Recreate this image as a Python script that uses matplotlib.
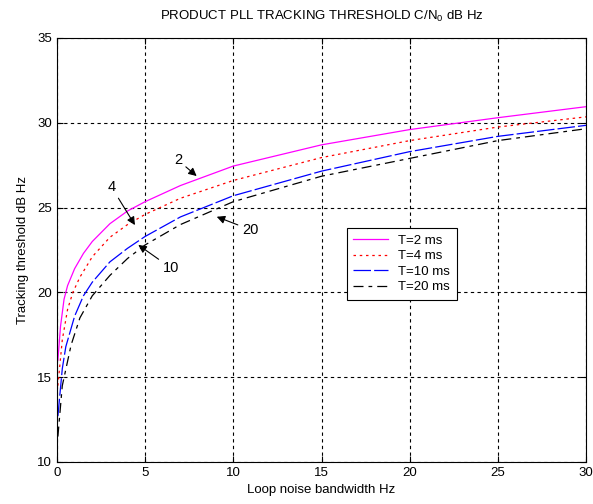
import matplotlib
matplotlib.use("Agg")
import matplotlib.pyplot as plt

plt.rcParams["font.family"] = ["Liberation Sans", "DejaVu Sans"]
plt.rcParams["mathtext.fontset"] = "custom"
plt.rcParams["mathtext.rm"] = "Liberation Sans"
plt.rcParams["mathtext.it"] = "Liberation Sans"

# Tracking threshold (dB Hz), per integration time T.
bw_2ms = [0.05, 0.2, 0.4, 0.6, 1, 1.5, 2, 3, 4, 5, 7, 10, 15, 20, 25, 30]
thr_2ms = [16.0, 18.0, 19.6, 20.4, 21.4, 22.3, 23.0, 24.05, 24.8, 25.35, 26.3, 27.45, 28.7, 29.6, 30.3, 30.95]

bw_4ms = [0.05, 0.3, 0.6, 0.9, 1.3, 2, 3, 4, 5, 7, 10, 15, 20, 25, 30]
thr_4ms = [14.5, 17.2, 19.0, 20.0, 20.9, 22.1, 23.25, 24.0, 24.6, 25.55, 26.6, 27.95, 28.95, 29.75, 30.35]

bw_10ms = [0.05, 0.3, 0.5, 1, 1.5, 2, 3, 4, 5, 7, 10, 15, 20, 25, 30]
thr_10ms = [12.7, 15.5, 16.8, 18.6, 19.8, 20.6, 21.8, 22.6, 23.3, 24.45, 25.7, 27.15, 28.3, 29.2, 29.85]

bw_20ms = [0.05, 0.3, 0.8, 1.3, 2, 3, 4, 5, 7, 10, 15, 20, 25, 30]
thr_20ms = [11.5, 14.5, 16.9, 18.5, 19.8, 21.0, 22.0, 22.8, 24.0, 25.35, 26.85, 27.9, 28.95, 29.65]

x_ticks = [0, 5, 10, 15, 20, 25, 30]
y_ticks = [10, 15, 20, 25, 30, 35]

fig = plt.figure(figsize=(5.93, 5.04), dpi=100)
ax = fig.add_axes([57 / 593, 1 - 462 / 504, 529 / 593, 424 / 504])

ax.plot(bw_2ms, thr_2ms, color="#ff00ff", lw=0.9, label="T=2 ms")
ax.plot(bw_4ms, thr_4ms, color="#ff0000", lw=0.9, linestyle=(0, (2, 3)), label="T=4 ms")
ax.plot(bw_10ms, thr_10ms, color="#0000ff", lw=0.9, linestyle=(0, (14, 2.5)), label="T=10 ms")
ax.plot(bw_20ms, thr_20ms, color="#000000", lw=0.9, linestyle=(0, (8, 4, 3, 4)), label="T=20 ms")

ax.set_xlim(0, 30)
ax.set_ylim(10, 35)
ax.set_xticks(x_ticks)
ax.set_yticks(y_ticks)
ax.tick_params(direction="in", top=True, right=True, length=4, labelsize=9.5)
ax.grid(True, color="black", linestyle=(0, (3, 3)), linewidth=0.8)
for sp in ax.spines.values():
    sp.set_linewidth(0.8)

ax.set_title("PRODUCT PLL TRACKING THRESHOLD C/N$_0$ dB Hz", fontsize=9.5, pad=13)
ax.set_xlabel("Loop noise bandwidth Hz", fontsize=9.5, labelpad=4)
ax.set_ylabel("Tracking threshold dB Hz", fontsize=9.5, labelpad=6)

# Curve labels with arrows
arrow = dict(arrowstyle="-|>", color="black", lw=0.8, mutation_scale=12, shrinkA=1, shrinkB=0)
ax.annotate("2", xy=(7.92, 26.86), xytext=(6.86, 27.8), fontsize=10.5,
            ha="center", va="center", arrowprops=arrow)
ax.annotate("4", xy=(4.42, 23.97), xytext=(3.1, 26.2), fontsize=10.5,
            ha="center", va="center", arrowprops=arrow)
ax.annotate("10", xy=(4.61, 22.8), xytext=(6.45, 21.45), fontsize=10.5,
            ha="center", va="center", arrowprops=arrow)
ax.annotate("20", xy=(9.06, 24.46), xytext=(10.95, 23.7), fontsize=10.5,
            ha="center", va="center", arrowprops=arrow)

leg = ax.legend(loc="upper left", bbox_to_anchor=(0.548, 0.552), fontsize=9.5,
                frameon=True, fancybox=False, framealpha=1, edgecolor="black",
                handlelength=2.6, borderpad=0.5, labelspacing=0.25, borderaxespad=0)
leg.get_frame().set_linewidth(0.8)

fig.savefig("out.png", dpi=100)
